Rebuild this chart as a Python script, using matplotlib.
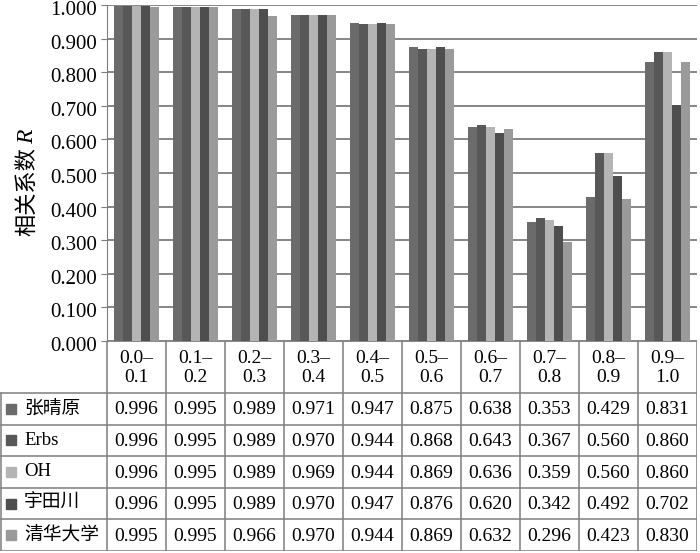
import numpy as np
import matplotlib.pyplot as plt
from matplotlib.patches import Rectangle
from matplotlib.transforms import ScaledTranslation

plt.rcParams['font.family'] = ['Liberation Serif', 'Noto Sans CJK SC']

# data
cats = ['0.0–\n0.1', '0.1–\n0.2', '0.2–\n0.3', '0.3–\n0.4', '0.4–\n0.5',
        '0.5–\n0.6', '0.6–\n0.7', '0.7–\n0.8', '0.8–\n0.9', '0.9–\n1.0']
names = ['张晴原', 'Erbs', 'OH', '宇田川', '清华大学']
zhang = [0.996, 0.995, 0.989, 0.971, 0.947, 0.875, 0.638, 0.353, 0.429, 0.831]
erbs = [0.996, 0.995, 0.989, 0.970, 0.944, 0.868, 0.643, 0.367, 0.560, 0.860]
oh = [0.996, 0.995, 0.989, 0.969, 0.944, 0.869, 0.636, 0.359, 0.560, 0.860]
yuta = [0.996, 0.995, 0.989, 0.970, 0.947, 0.876, 0.620, 0.342, 0.492, 0.702]
qinghua = [0.995, 0.995, 0.966, 0.970, 0.944, 0.869, 0.632, 0.296, 0.423, 0.830]
series = [zhang, erbs, oh, yuta, qinghua]
colors = ['#6b6b6b', '#585858', '#b4b4b4', '#4e4e4e', '#9a9a9a']
yticks = np.arange(0, 1.01, 0.1)

W, H = 700, 553
fig = plt.figure(figsize=(W / 100, H / 100), dpi=100)

# main bar axes
left, right, top, bottom = 107, 697, 5, 341
ax = fig.add_axes([left / W, 1 - bottom / H, (right - left) / W, (bottom - top) / H])
x = np.arange(len(cats))
bw = 0.152
for i, (vals, c) in enumerate(zip(series, colors)):
    ax.bar(x + (i - 2) * bw, vals, width=bw, color=c, zorder=3)

ax.set_xlim(-0.5, len(cats) - 0.5)
ax.set_ylim(0, 1.0)
ax.set_yticks(yticks)
ax.set_yticklabels([f'{v:.3f}' for v in yticks], fontsize=15)
ax.set_xticks([])
ax.grid(axis='y', color='#7d7d7d', linewidth=1.3, zorder=0)
ax.set_axisbelow(True)
for s in ['top', 'right', 'bottom']:
    ax.spines[s].set_visible(False)
ax.spines['left'].set_color('#7d7d7d')
ax.tick_params(axis='y', length=4, color='#7d7d7d', pad=3)
# labels sit a little below their grid lines in the original
shift = ScaledTranslation(0, -3 / 100, fig.dpi_scale_trans)
for lab in ax.get_yticklabels():
    lab.set_transform(lab.get_transform() + shift)

# y label (R in italic)
fig.text(27 / W, 1 - 236 / H, '相关系数', rotation=90, ha='center', va='bottom',
         fontsize=16, family=['Noto Sans CJK SC'])
fig.text(28 / W, 1 - 144 / H, 'R', rotation=90, ha='center', va='bottom',
         fontsize=17, style='italic', family=['Liberation Serif'])

# data table
head_h = 52
row_h = 31.6
tab_h = head_h + row_h * len(names)
lab_w = 107 / 59
tax = fig.add_axes([0, 1 - (bottom + tab_h) / H, right / W, tab_h / H])
x0 = -0.5 - lab_w
tax.set_xlim(x0, len(cats) - 0.5)
tax.set_ylim(tab_h, 0)
tax.axis('off')
lc = '#7d7d7d'
tax.plot([-0.5, len(cats) - 0.5], [0, 0], color=lc, lw=1.3)
for k in range(len(names) + 1):
    yy = head_h + k * row_h
    tax.plot([x0 + 0.02, len(cats) - 0.5], [yy, yy], color=lc, lw=1.1)
for j in range(len(cats) + 1):
    tax.plot([j - 0.5, j - 0.5], [0, tab_h], color=lc, lw=1.1)
tax.plot([x0 + 0.02, x0 + 0.02], [head_h, tab_h], color=lc, lw=1.1)

for j, c in enumerate(cats):
    tax.text(j, head_h / 2 + 1, c, ha='center', va='center', fontsize=14,
             linespacing=1.2)
for i, (nm, vals, c) in enumerate(zip(names, series, colors)):
    yc = head_h + (i + 0.5) * row_h
    tax.add_patch(Rectangle((x0 + 6 / 59, yc - 5), 10 / 59, 10, color=c,
                            clip_on=False))
    tax.text(x0 + 24 / 59, yc, nm, ha='left', va='center', fontsize=13.5)
    for j, v in enumerate(vals):
        tax.text(j, yc + 1, f'{v:.3f}', ha='center', va='center', fontsize=14)

fig.savefig('out.png', dpi=100)
